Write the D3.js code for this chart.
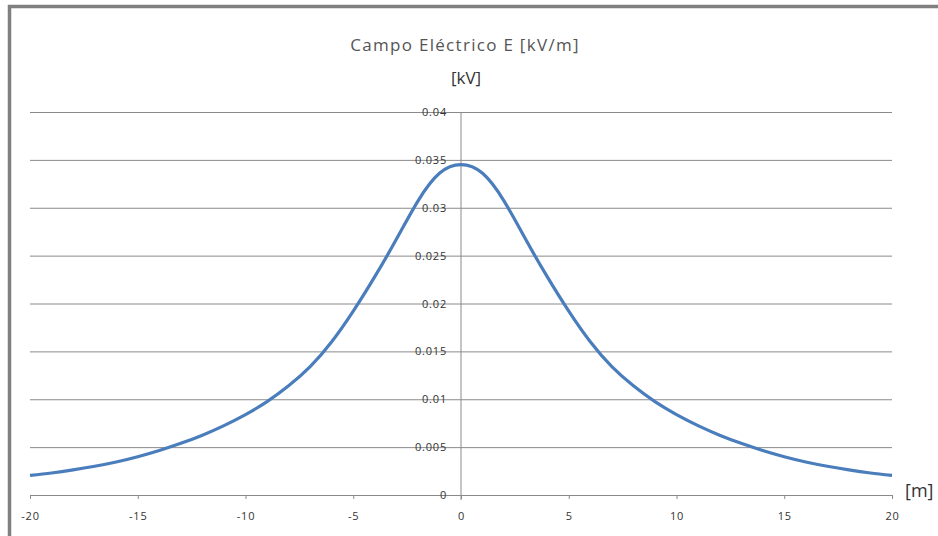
<!DOCTYPE html>
<html>
<head>
<meta charset="utf-8">
<script src="https://cdn.jsdelivr.net/npm/d3@7/dist/d3.min.js"></script>
<style>
  html, body { margin: 0; padding: 0; background: #fff; }
  svg { display: block; }
</style>
</head>
<body>
<svg id="chart" width="938" height="536"></svg>
<script>
// Lateral distance from the line axis [m]
const distance = [-20, -19, -18, -17, -16, -15, -14, -13, -12, -11, -10, -9, -8, -7, -6, -5, -4, -3, -2, -1,
  0, 1, 2, 3, 4, 5, 6, 7, 8, 9, 10, 11, 12, 13, 14, 15, 16, 17, 18, 19, 20];

// Electric field E [kV/m]
const field = [0.00205, 0.00230, 0.00262, 0.00300, 0.00345, 0.00400, 0.00465, 0.00540, 0.00625, 0.00725, 0.00840,
  0.00975, 0.01140, 0.01340, 0.01600, 0.01920, 0.02280, 0.02670, 0.03070, 0.03360,
  0.03450,
  0.03360, 0.03070, 0.02670, 0.02280, 0.01920, 0.01600, 0.01340, 0.01140, 0.00975, 0.00840,
  0.00725, 0.00625, 0.00540, 0.00465, 0.00400, 0.00345, 0.00300, 0.00262, 0.00230, 0.00205];

const xTicks = [-20, -15, -10, -5, 0, 5, 10, 15, 20];
const yTicks = [0, 0.005, 0.01, 0.015, 0.02, 0.025, 0.03, 0.035, 0.04];

const chartTitle = "Campo Eléctrico E [kV/m]";
const yUnit = "[kV]";
const xUnit = "[m]";

const svg = d3.select("#chart");
const W = 938, H = 536;

const x = d3.scaleLinear().domain([-20, 20]).range([30, 892]);
const y = d3.scaleLinear().domain([0, 0.04]).range([495, 112]);

const gridColor = "#8a8a8a";
const labelColor = "#333";
const font = "'Open Sans', 'DejaVu Sans', sans-serif";

// frame
svg.append("rect").attr("width", W).attr("height", H).attr("fill", "#fff");
svg.append("path")
  .attr("d", `M9.5,${H} V6.5 H${W}`)
  .attr("fill", "none")
  .attr("stroke", "#808080")
  .attr("stroke-width", 3.5);

// horizontal gridlines
const grid = svg.append("g")
  .attr("transform", `translate(${x(-20)},0)`)
  .call(d3.axisLeft(y).tickValues(yTicks.slice(1)).tickSize(-(x(20) - x(-20))).tickFormat(""));
grid.select(".domain").remove();
grid.selectAll("line").attr("stroke", gridColor).attr("stroke-width", 1);

// x axis
const xAxis = svg.append("g")
  .attr("transform", `translate(0,${y(0)})`)
  .call(d3.axisBottom(x).tickValues(xTicks).tickSize(4).tickSizeOuter(0).tickPadding(13).tickFormat(d => String(d)));
xAxis.select(".domain").attr("stroke", gridColor);
xAxis.selectAll("line").attr("stroke", gridColor);
xAxis.selectAll("text")
  .attr("fill", labelColor)
  .style("font-family", font)
  .style("font-size", "11px")
  .style("letter-spacing", "0.8px");

// y axis at x = 0
const yAxis = svg.append("g")
  .attr("transform", `translate(${x(0)},0)`)
  .call(d3.axisLeft(y).tickValues(yTicks).tickSize(0).tickPadding(14).tickFormat(d => String(+d.toFixed(3))));
yAxis.select(".domain").remove();
yAxis.selectAll("text")
  .attr("fill", labelColor)
  .style("font-family", font)
  .style("font-size", "11px")
  .style("letter-spacing", "0.8px");

svg.append("line")
  .attr("x1", x(0)).attr("x2", x(0))
  .attr("y1", y(0.04)).attr("y2", y(0) + 5)
  .attr("stroke", gridColor).attr("stroke-width", 1);

// curve
const line = d3.line()
  .x((d, i) => x(distance[i]))
  .y(d => y(d))
  .curve(d3.curveNatural);

svg.append("path")
  .datum(field)
  .attr("d", line)
  .attr("fill", "none")
  .attr("stroke", "#4a7dbb")
  .attr("stroke-width", 3.2)
  .attr("stroke-linejoin", "round");

// titles
svg.append("text")
  .attr("x", 465).attr("y", 51)
  .attr("text-anchor", "middle")
  .attr("fill", "#555")
  .style("font-family", font)
  .style("font-size", "17px")
  .style("letter-spacing", "1.3px")
  .text(chartTitle);

svg.append("text")
  .attr("x", 466).attr("y", 84)
  .attr("text-anchor", "middle")
  .attr("fill", "#333")
  .style("font-family", font)
  .style("font-size", "17px")
  .text(yUnit);

svg.append("text")
  .attr("x", 905).attr("y", 497)
  .attr("fill", "#333")
  .style("font-family", font)
  .style("font-size", "18px")
  .text(xUnit);
</script>
</body>
</html>
